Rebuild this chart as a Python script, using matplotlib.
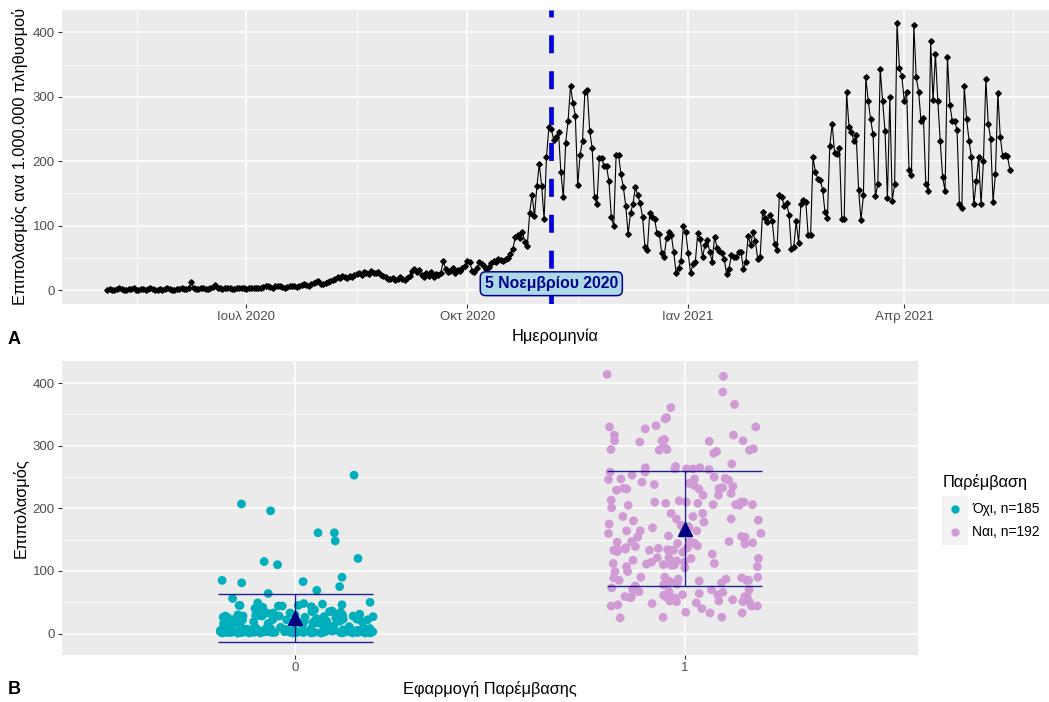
import datetime as dt
import numpy as np
import matplotlib
matplotlib.use("Agg")
import matplotlib.pyplot as plt
import matplotlib.dates as mdates
from matplotlib.patches import Rectangle
from matplotlib.lines import Line2D

plt.rcParams["font.family"] = ["Liberation Sans", "DejaVu Sans"]

start_date = dt.date(2020, 5, 4)
intervention_date = dt.date(2020, 11, 5)

# daily prevalence per 1.000.000, 4 May - 4 Nov 2020 (no intervention)
before = [
    1, 2, 1, 1, 2, 3, 2, 1, 1, 2, 2, 3, 1, 1, 2, 2, 1, 2, 3, 2, 1, 1, 2, 1, 2, 3, 2, 1, 1, 2, 2,
    3, 2, 2, 3, 12, 3, 2, 2, 3, 4, 2, 2, 3, 5, 8, 4, 3, 2, 3, 4, 3, 2, 2, 3, 4, 3, 3, 2, 3, 4,
    4, 3, 3, 4, 5, 6, 7, 5, 4, 6, 7, 6, 5, 4, 5, 6, 7, 6, 5, 6, 8, 9, 8, 7, 9, 11, 12, 14,
    10, 9, 11, 12, 14, 16, 18, 20, 19, 22, 21, 19, 22, 20, 23, 25,
    26, 24, 28, 27, 25, 29, 27, 26, 28, 24, 22, 20, 18, 17, 19, 16, 18, 20, 17, 16, 19, 22,
    30, 33, 28, 31, 24, 21, 26, 22, 28, 20, 25, 23, 27, 45, 33, 28, 30, 35, 26, 31, 29, 34, 37, 45,
    44, 30, 28, 35, 43, 40, 38, 33, 36, 42, 46, 44, 48, 47, 45, 49, 50, 56,
    64, 83, 85, 81, 90, 75, 69, 120, 148, 115, 161, 196, 161, 110, 207, 253,
]

# daily prevalence per 1.000.000, 5 Nov 2020 - 15 May 2021 (intervention)
after = [
    250, 233, 237, 245, 183, 144, 229, 263, 317, 291, 271, 163, 210, 232, 308, 310, 247, 221, 144, 133,
    205, 205, 192, 192, 169, 114, 99, 210, 210, 180, 160, 131, 87,
    120, 133, 160, 147, 135, 114, 67, 62, 120, 114, 111, 89, 87, 57, 52, 81, 90, 85, 59, 26,
    34, 46, 99, 90, 58, 26, 40, 44, 89, 79, 51, 70, 78, 59, 44, 83, 66, 61, 57, 49,
    25, 33, 54, 51, 51, 59, 59, 33, 44,
    84, 70, 90, 76, 48, 52,
    121, 112, 105, 116, 107, 71, 62, 147, 145, 130, 136, 117, 64, 67, 107, 73, 134, 140, 137, 85,
    85, 206, 183, 173, 171, 156, 121, 112, 224, 258, 213, 212, 221, 110, 110, 307, 253, 246, 231, 240,
    155, 109, 147, 330, 294, 265, 242, 146, 164,
    343, 293, 247, 143, 299, 139, 164, 414, 345, 332, 294, 308, 187, 178, 411, 330, 308, 262, 267, 164,
    154, 386, 295, 366, 293, 231, 175, 154, 361, 288, 263, 263, 248, 134, 127, 317, 265, 232, 206, 133,
    169, 206, 133, 201, 327, 258, 235, 137, 181, 306, 238, 208, 210, 208, 187,
]

date_ticks = [dt.date(2020, 7, 1), dt.date(2020, 10, 1), dt.date(2021, 1, 1), dt.date(2021, 4, 1)]
date_tick_labels = ["Ιουλ 2020", "Οκτ 2020", "Ιαν 2021", "Απρ 2021"]
group_names = ["0", "1"]
legend_labels = ["Όχι, n=185", "Ναι, n=192"]
group_colors = ["#00AFBB", "#D09AD4"]

W, H = 1049, 702
panel_bg = "#EBEBEB"
tick_col = "#4D4D4D"
navy = "#000080"
title_size = 11.8
tick_size = 9.5


def fx(px):
    return px / W


def fy(py):
    return 1 - py / H


def style_axes(ax):
    ax.set_facecolor(panel_bg)
    for sp in ax.spines.values():
        sp.set_visible(False)
    ax.grid(which="major", color="white", lw=1.1)
    ax.grid(which="minor", color="white", lw=0.55)
    ax.set_axisbelow(True)
    ax.tick_params(which="major", colors="#333333", labelcolor=tick_col, labelsize=tick_size,
                   length=2.7, width=0.8, pad=2.5)
    ax.tick_params(which="minor", length=0)


fig = plt.figure(figsize=(W / 100, H / 100), dpi=100)

# ---- A: time series ----
ax1 = fig.add_axes([fx(62), fy(303.5), fx(1055) - fx(62), (303.5 - 10) / H])
style_axes(ax1)

values = np.array(before + after, dtype=float)
dates = [start_date + dt.timedelta(days=i) for i in range(len(values))]
dnum = mdates.date2num(dates)

ax1.plot(dnum, values, color="black", lw=0.8, marker="D", ms=2.8, zorder=3)
xnum_int = mdates.date2num(intervention_date)
ax1.axvline(xnum_int, color="#0000DD", lw=3.4, linestyle=(0, (3.8, 3.8)), zorder=4)
ax1.text(xnum_int, 10, "5 Νοεμβρίου 2020", ha="center", va="center", fontsize=11.3,
         fontweight="bold", color="#00008B", zorder=5,
         bbox=dict(boxstyle="round,pad=0.28,rounding_size=0.35", fc="#ADD8E6", ec="#00008B", lw=1.1))

span = dnum[-1] - dnum[0]
ax1.set_xlim(dnum[0] - 0.05 * span, dnum[-1] + 0.05 * span)
yspan = values.max() - 0
ax1.set_ylim(-0.05 * yspan, values.max() + 0.05 * yspan)

major_num = mdates.date2num(date_ticks)
edges = mdates.date2num([dt.date(2020, 4, 1)] + date_ticks + [dt.date(2021, 7, 1)])
ax1.set_xticks(major_num)
ax1.set_xticklabels(date_tick_labels)
ax1.set_xticks((edges[:-1] + edges[1:]) / 2, minor=True)
ax1.set_yticks([0, 100, 200, 300, 400])
ax1.set_yticks([50, 150, 250, 350], minor=True)
ax1.set_xlabel("Ημερομηνία", fontsize=title_size)
ax1.set_ylabel("Επιπολασμός ανα 1.000.000 πληθυσμού", fontsize=title_size, labelpad=3)
ax1.xaxis.set_label_coords((fx(555) - fx(62)) / (fx(1055) - fx(62)), -0.085)

# ---- B: jittered groups with mean +/- sd ----
ax2 = fig.add_axes([fx(62), fy(655), fx(918) - fx(62), (655 - 361) / H])
style_axes(ax2)

rng = np.random.default_rng(11)
groups = [np.array(before, dtype=float), np.array(after, dtype=float)]
lows, highs = [], []
for i, (vals, col) in enumerate(zip(groups, group_colors)):
    xs = i + rng.uniform(-0.2, 0.2, len(vals))
    ax2.scatter(xs, vals, s=40, color=col, edgecolors="none", zorder=3)
    m, s = vals.mean(), vals.std(ddof=1)
    ax2.vlines(i, m - s, m + s, color=navy, lw=1.0, alpha=0.85, zorder=4)
    ax2.hlines([m - s, m + s], i - 0.2, i + 0.2, color=navy, lw=1.0, alpha=0.85, zorder=4)
    ax2.plot(i, m, marker="^", ms=10, color=navy, zorder=5)
    lows.append(min(vals.min(), m - s))
    highs.append(max(vals.max(), m + s))

lo, hi = min(lows), max(highs)
ax2.set_ylim(lo - 0.05 * (hi - lo), hi + 0.05 * (hi - lo))
ax2.set_xlim(-0.6, 1.6)
ax2.set_xticks([0, 1])
ax2.set_xticklabels(group_names)
ax2.set_yticks([0, 100, 200, 300, 400])
ax2.set_yticks([50, 150, 250, 350], minor=True)
ax2.set_xlabel("Εφαρμογή Παρέμβασης", fontsize=title_size, labelpad=5)
ax2.set_ylabel("Επιπολασμός", fontsize=title_size, labelpad=3)

# legend
fig.text(fx(943), fy(482), "Παρέμβαση", fontsize=title_size, ha="left", va="center")
fig.add_artist(Rectangle((fx(942), fy(545)), fx(26), 49 / H, transform=fig.transFigure,
                         fc="#F2F2F2", ec="none"))
for py, col, lab in zip([509, 532], group_colors, legend_labels):
    fig.add_artist(Line2D([fx(955)], [fy(py)], marker="o", ms=6, color=col, mec="none",
                          transform=fig.transFigure))
    fig.text(fx(972), fy(py), lab, fontsize=10, ha="left", va="center")

# panel tags
fig.text(fx(8), fy(340), "A", fontsize=13, fontweight="bold", va="center")
fig.text(fx(8), fy(690), "B", fontsize=13, fontweight="bold", va="center")

fig.savefig("out.png", dpi=100)
